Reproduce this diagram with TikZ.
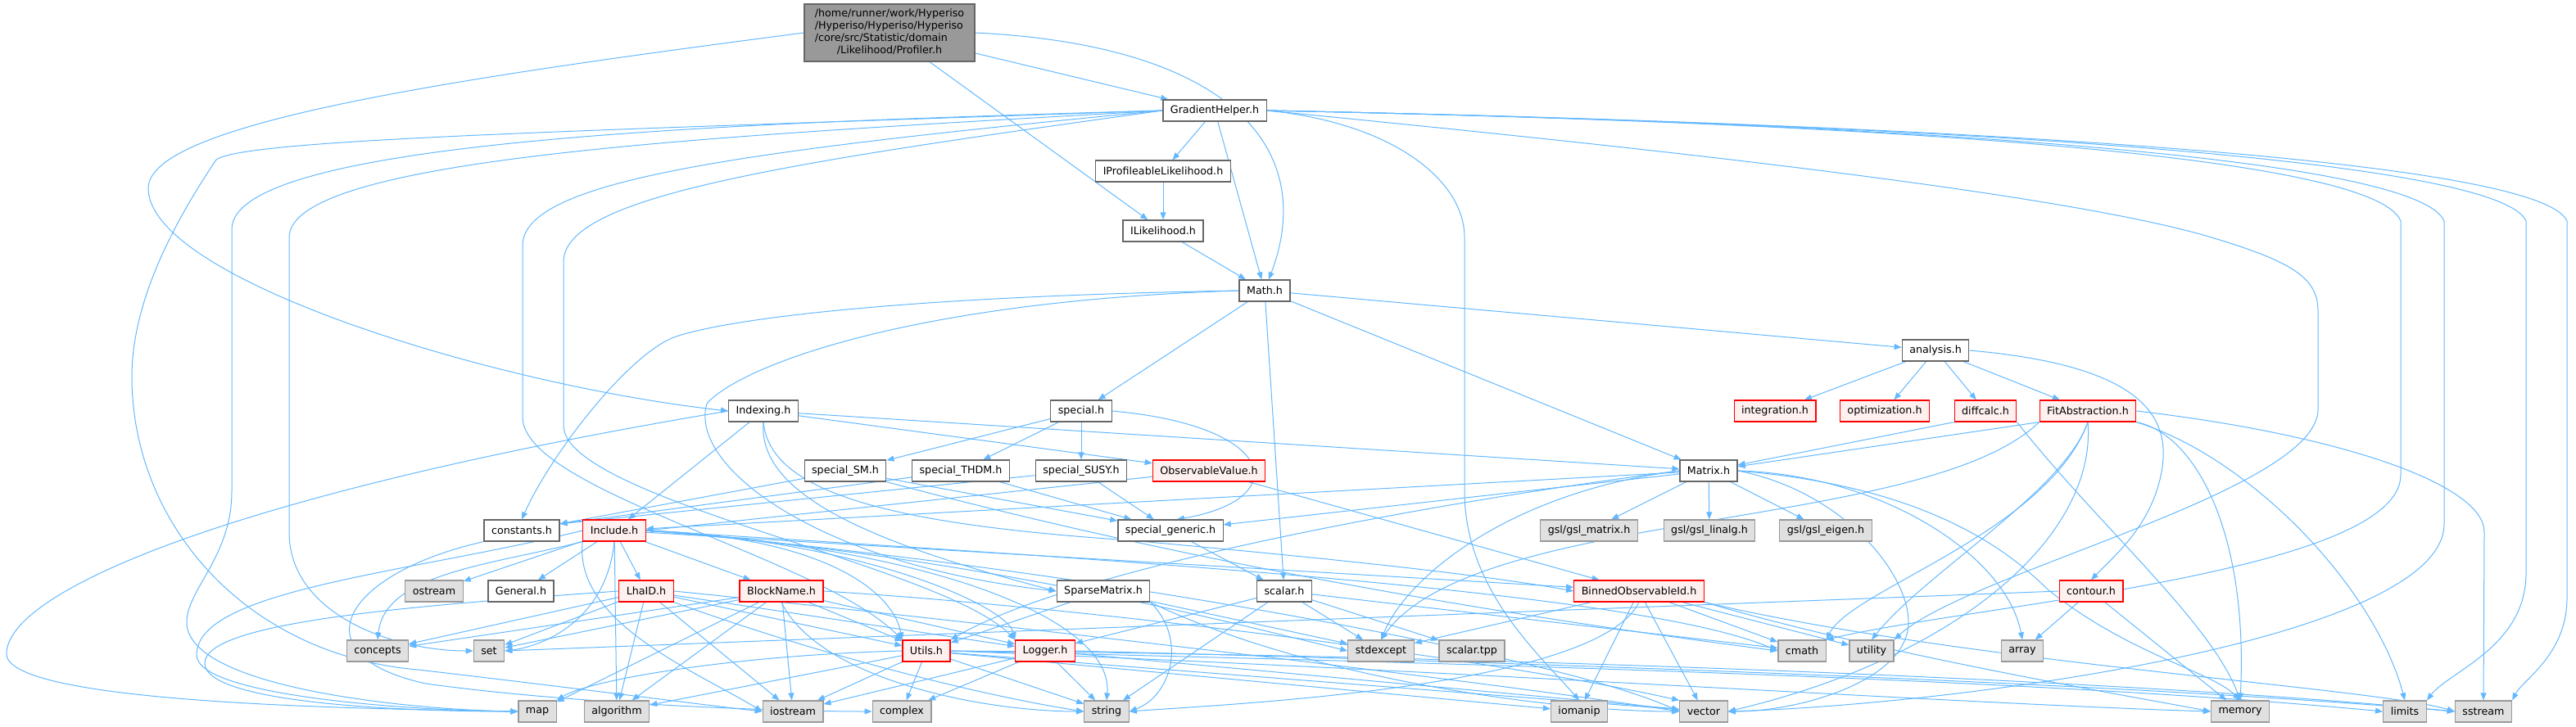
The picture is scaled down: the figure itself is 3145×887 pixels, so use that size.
\documentclass[tikz,border=0pt]{standalone}
\usepackage{fontspec}
\setmainfont{DejaVu Sans}
\usetikzlibrary{arrows.meta,backgrounds}
\definecolor{edgeblue}{HTML}{63B8FF}
\definecolor{boxgray}{HTML}{666666}
\definecolor{sysgray}{HTML}{999999}
\definecolor{sysfill}{HTML}{E0E0E0}
\definecolor{truncred}{HTML}{FF0000}
\definecolor{truncfill}{HTML}{FFF0F0}
\definecolor{rootfill}{HTML}{999999}
\newcommand{\depfont}{\fontsize{12.7}{15}\selectfont}

\begin{document}
\begin{tikzpicture}[x=1pt,y=-1pt,
    hfile/.style={rectangle, draw=boxgray, fill=white, line width=1.2pt, minimum height=26pt, inner xsep=9pt, inner ysep=2pt, font=\depfont},
    trunc/.style={hfile, draw=truncred, fill=truncfill},
    sysh/.style={hfile, draw=sysgray, fill=sysfill},
    rootfile/.style={hfile, fill=rootfill, minimum width=208pt, minimum height=70pt},
    dep/.style={draw=edgeblue, line width=1pt, -{Triangle[length=9pt,width=7pt]}}]
\useasboundingbox (0,0) rectangle (3145,887);

% project headers
\node[rootfile] (prof) at (1086,40) {\begin{tabular}{@{}l@{}}/home/runner/work/Hyperiso\\/Hyperiso/Hyperiso/Hyperiso\\/core/src/Statistic/domain\\\multicolumn{1}{@{}c@{}}{/Likelihood/Profiler.h}\end{tabular}};
\node[hfile] (grad) at (1483,135) {GradientHelper.h};
\node[hfile] (iprof) at (1420,209) {IProfileableLikelihood.h};
\node[hfile] (ilik) at (1420,282) {ILikelihood.h};
\node[hfile] (math) at (1544,355) {Math.h};
\node[hfile] (anal) at (2363,428) {analysis.h};
\node[hfile] (index) at (932,502) {Indexing.h};
\node[hfile] (spec) at (1320,502) {special.h};
\node[trunc] (integ) at (2167,502) {integration.h};
\node[trunc] (optim) at (2301,502) {optimization.h};
\node[trunc] (diffc) at (2424,502) {diffcalc.h};
\node[trunc] (fitab) at (2549,502) {FitAbstraction.h};
\node[hfile] (specsm) at (1032,575) {special\_SM.h};
\node[hfile] (specthdm) at (1173,575) {special\_THDM.h};
\node[hfile] (specsusy) at (1320,575) {special\_SUSY.h};
\node[trunc] (obsval) at (1476,575) {ObservableValue.h};
\node[hfile] (matrix) at (2086,575) {Matrix.h};
\node[hfile] (consts) at (637,648) {constants.h};
\node[trunc] (incl) at (750,648) {Include.h};
\node[hfile] (specgen) at (1429,648) {special\_generic.h};
\node[hfile] (general) at (636,722) {General.h};
\node[trunc] (lhaid) at (789,722) {LhaID.h};
\node[trunc] (block) at (954,722) {BlockName.h};
\node[hfile] (sparse) at (1347,722) {SparseMatrix.h};
\node[hfile] (scalar) at (1568,722) {scalar.h};
\node[trunc] (binned) at (2001,722) {BinnedObservableId.h};
\node[trunc] (contour) at (2553,722) {contour.h};
\node[trunc] (utils) at (1131,795) {Utils.h};
\node[trunc] (logger) at (1276,795) {Logger.h};

% system headers
\node[sysh] (gslmat) at (1940,648) {gsl/gsl\_matrix.h};
\node[sysh] (gsllin) at (2087,648) {gsl/gsl\_linalg.h};
\node[sysh] (gsleig) at (2229,648) {gsl/gsl\_eigen.h};
\node[sysh] (ostream) at (530,722) {ostream};
\node[sysh] (concepts) at (461,795) {concepts};
\node[sysh] (set) at (597,795) {set};
\node[sysh] (stdexc) at (1686,795) {stdexcept};
\node[sysh] (sctpp) at (1797,795) {scalar.tpp};
\node[sysh] (cmath) at (2200,795) {cmath};
\node[sysh] (utility) at (2285,795) {utility};
\node[sysh] (array) at (2469,795) {array};
\node[sysh] (map) at (656,869) {map};
\node[sysh] (algo) at (753,869) {algorithm};
\node[sysh] (iostr) at (968,869) {iostream};
\node[sysh] (complex) at (1101,869) {complex};
\node[sysh] (string) at (1351,869) {string};
\node[sysh] (iomanip) at (1928,869) {iomanip};
\node[sysh] (vector) at (2080,869) {vector};
\node[sysh] (memory) at (2735,869) {memory};
\node[sysh] (limits) at (2936,869) {limits};
\node[sysh] (sstream) at (3032,869) {sstream};

\begin{pgfonlayer}{background}
\begin{scope}[x=1pt,y=-1pt]
% Profiler.h
\draw[dep] (prof) -- (grad);
\draw[dep] (prof) -- (ilik);
\draw[dep] (prof.east) .. controls (1500,55) and (1610,180) .. (math.70);
\draw[dep] (prof.west) .. controls (560,95) and (181,150) .. (181,230) .. controls (181,340) and (600,470) .. (index.west);

% GradientHelper.h
\draw[dep] (grad) -- (iprof);
\draw[dep] (grad) -- (math);
\draw[dep] (grad.west) .. controls (700,160) and (300,170) .. (264,195) .. controls (200,290) and (161,380) .. (161,460) .. controls (161,640) and (300,800) .. (510,818) .. controls (700,840) and (850,860) .. (iostr.west);
\draw[dep] (grad.west) .. controls (900,150) and (283,170) .. (283,280) -- (283,600) .. controls (283,680) and (228,720) .. (228,760) .. controls (228,840) and (500,867) .. (map.west);
\draw[dep] (grad.west) .. controls (900,165) and (353,190) .. (353,290) -- (353,650) .. controls (353,750) and (480,795) .. (set.west);
\draw[dep] (grad.west) .. controls (900,185) and (638,220) .. (638,300) -- (638,510) .. controls (640,600) and (1000,680) .. (utils.north west);
\draw[dep] (grad.west) .. controls (950,200) and (688,240) .. (688,320) -- (688,520) .. controls (690,610) and (1150,690) .. (logger.north west);
\draw[dep] (grad.east) .. controls (1700,150) and (1788,220) .. (1788,290) -- (1788,600) .. controls (1788,720) and (1880,800) .. (iomanip.north);
\draw[dep] (grad.east) .. controls (1900,170) and (2500,230) .. (2700,290) .. controls (2800,320) and (2830,340) .. (2830,380) -- (2830,500) .. controls (2830,600) and (2400,700) .. (utility.north east);
\draw[dep] (grad.east) .. controls (2300,150) and (2900,190) .. (2931,270) -- (2931,580) .. controls (2931,700) and (2400,740) .. (cmath.north east);
\draw[dep] (grad.east) .. controls (2300,150) and (2950,190) .. (2984,270) -- (2984,640) .. controls (2984,780) and (2400,860) .. (vector.east);
\draw[dep] (grad.east) .. controls (2300,150) and (3050,190) .. (3084,270) -- (3084,700) .. controls (3084,790) and (2990,820) .. (limits.north east);
\draw[dep] (grad.east) .. controls (2300,150) and (3100,190) .. (3134,270) -- (3134,730) .. controls (3134,800) and (3080,830) .. (sstream.north east);

% ILikelihood chain
\draw[dep] (iprof) -- (ilik);
\draw[dep] (ilik) -- (math);

% Math.h
\foreach \dst in {anal,spec,matrix,scalar} \draw[dep] (math) -- (\dst);
\draw[dep] (math.west) .. controls (1100,362) and (880,390) .. (820,413) .. controls (760,440) and (670,560) .. (consts.north);
\draw[dep] (math.west) .. controls (1100,368) and (900,450) .. (863,493) .. controls (840,570) and (1000,690) .. (sparse.west);

% analysis.h
\foreach \dst in {integ,optim,diffc,fitab} \draw[dep] (anal) -- (\dst);
\draw[dep] (anal.east) .. controls (2600,445) and (2650,500) .. (2640,570) .. controls (2630,640) and (2580,680) .. (contour.north);

% Indexing.h
\foreach \dst in {obsval,matrix,incl} \draw[dep] (index) -- (\dst);
\draw[dep] (index.west) .. controls (300,600) and (5,720) .. (8,800) .. controls (15,860) and (450,866) .. (map.west);
\draw[dep] (index.south) .. controls (925,600) and (1050,660) .. (sparse.west);
\draw[dep] (index.south) .. controls (940,600) and (1080,640) .. (1380,660) .. controls (1600,680) and (1800,700) .. (binned.west);

% special headers
\foreach \dst in {specsm,specthdm,specsusy} \draw[dep] (spec) -- (\dst);
\draw[dep] (spec.east) .. controls (1560,520) and (1580,610) .. (specgen.60);
\foreach \src in {specsm,specthdm,specsusy} {
  \draw[dep] (\src) -- (specgen);
  \draw[dep] (\src) -- (consts.10);
}
\draw[dep] (specsm.south east) .. controls (1500,700) and (1900,760) .. (cmath.west);
\draw[dep] (specgen) -- (scalar);

% ObservableValue.h
\draw[dep] (obsval) -- (incl.east);
\draw[dep] (obsval) -- (binned);

% Matrix.h
\foreach \dst in {gslmat,gsllin,gsleig,specgen,incl} \draw[dep] (matrix) -- (\dst);
\draw[dep] (matrix.west) .. controls (1850,600) and (1720,700) .. (stdexc.north);
\draw[dep] (matrix.west) .. controls (1700,620) and (1300,700) .. (utils.north east);
\draw[dep] (matrix.east) .. controls (2300,590) and (2420,640) .. (2500,720) .. controls (2600,800) and (2700,820) .. (memory.north);
\draw[dep] (matrix.east) .. controls (2250,600) and (2330,700) .. (2330,760) .. controls (2330,830) and (2200,869) .. (vector.east);
\draw[dep] (matrix.east) .. controls (2300,580) and (2450,680) .. (array.north);

% FitAbstraction.h and diffcalc.h
\draw[dep] (fitab.south west) -- (matrix);
\draw[dep] (diffc.south west) -- (matrix);
\draw[dep] (fitab.south east) .. controls (2680,530) and (2745,650) .. (memory.north);
\draw[dep] (fitab.south east) .. controls (2750,560) and (2900,720) .. (limits.north);
\draw[dep] (fitab.east) .. controls (2850,530) and (3033,590) .. (3033,650) -- (sstream.north);
\draw[dep] (fitab.south) .. controls (2560,650) and (2400,800) .. (vector.east);
\draw[dep] (fitab.south west) .. controls (2350,650) and (1800,620) .. (stdexc.north);
\draw[dep] (fitab.south) .. controls (2500,650) and (2260,720) .. (cmath.north east);
\draw[dep] (fitab.south) .. controls (2520,600) and (2350,700) .. (utility.north);
\draw[dep] (diffc.south east) .. controls (2560,640) and (2700,760) .. (memory.north);

% contour.h
\draw[dep] (contour) -- (array);
\draw[dep] (contour) -- (memory);
\draw[dep] (contour.west) -- (set.east);

% Include.h
\foreach \dst in {lhaid,block,ostream,general,algo,binned} \draw[dep] (incl) -- (\dst);
\draw[dep] (incl.west) .. controls (500,700) and (240,720) .. (240,800) .. controls (240,850) and (500,868) .. (map.west);
\draw[dep] (incl.south west) .. controls (600,690) and (470,700) .. (concepts.north);
\draw[dep] (incl.south) .. controls (740,760) and (660,790) .. (set.east);
\draw[dep] (incl.south west) .. controls (700,760) and (850,820) .. (iostr.west);
\draw[dep] (incl.east) .. controls (1000,655) and (1090,720) .. (utils.north west);
\draw[dep] (incl.east) .. controls (1050,660) and (1230,740) .. (logger.north west);
\draw[dep] (incl.east) .. controls (1150,670) and (1360,760) .. (string.north);
\draw[dep] (incl.east) .. controls (1300,690) and (1900,800) .. (vector.west);
\draw[dep] (incl.east) .. controls (1300,680) and (2000,720) .. (cmath.west);
\draw[dep] (incl.east) .. controls (1200,680) and (1500,760) .. (stdexc.west);

% LhaID.h
\foreach \dst in {algo,concepts,set,utils,logger,iostr} \draw[dep] (lhaid) -- (\dst);
\draw[dep] (lhaid.west) .. controls (500,740) and (250,760) .. (250,810) .. controls (250,860) and (500,869) .. (map.west);
\draw[dep] (lhaid.south east) .. controls (1000,800) and (1200,850) .. (string.west);
\draw[dep] (lhaid.east) .. controls (1200,760) and (1800,830) .. (vector.west);

% BlockName.h
\foreach \dst in {iostr,utils,logger,algo,map,set,concepts} \draw[dep] (block) -- (\dst);
\draw[dep] (block.south) .. controls (1000,830) and (1200,869) .. (string.west);
\draw[dep] (block.east) .. controls (1300,740) and (1800,800) .. (vector.north west);

% SparseMatrix.h
\draw[dep] (sparse) -- (utils);
\draw[dep] (sparse) -- (stdexc);
\draw[dep] (sparse.south east) .. controls (1450,780) and (1430,850) .. (string.east);
\draw[dep] (sparse.south east) .. controls (1600,830) and (1900,869) .. (vector.west);

% scalar.h
\foreach \dst in {sctpp,stdexc,logger,string,cmath} \draw[dep] (scalar) -- (\dst);

% BinnedObservableId.h
\foreach \dst in {stdexc,iomanip,vector,cmath,utility} \draw[dep] (binned) -- (\dst);
\draw[dep] (binned.south) .. controls (1950,840) and (1500,860) .. (string.east);
\draw[dep] (binned.south east) .. controls (2300,800) and (2600,850) .. (memory.west);
\draw[dep] (binned.south east) .. controls (2400,810) and (2900,840) .. (sstream.west);

% Utils.h
\foreach \dst in {complex,iostr,string,algo,vector,iomanip} \draw[dep] (utils) -- (\dst);
\draw[dep] (utils.west) .. controls (900,800) and (720,830) .. (map.north east);
\draw[dep] (utils.east) .. controls (1800,800) and (2600,830) .. (sstream.west);
\draw[dep] (utils.east) .. controls (1800,810) and (2500,830) .. (limits.west);
\draw[dep] (utils.east) .. controls (1800,820) and (2400,860) .. (memory.west);

% Logger.h
\foreach \dst in {iostr,complex,string,vector} \draw[dep] (logger) -- (\dst);
\draw[dep] (logger.east) .. controls (1900,810) and (2600,835) .. (sstream.west);

% constants.h
\draw[dep] (consts.south west) .. controls (420,700) and (360,800) .. (520,835) .. controls (700,860) and (950,869) .. (complex.west);
\end{scope}
\end{pgfonlayer}
\end{tikzpicture}
\end{document}
